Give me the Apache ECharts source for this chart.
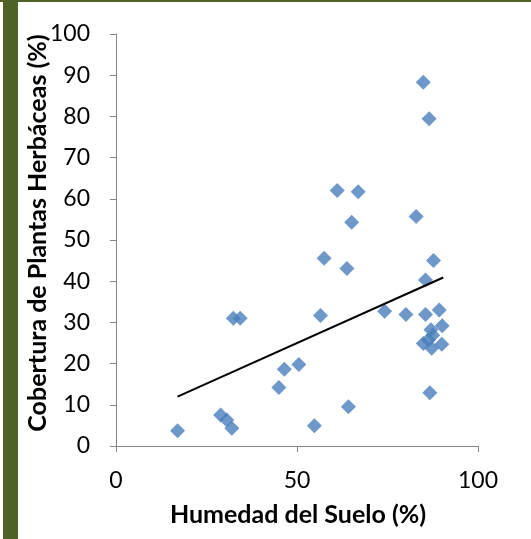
<!DOCTYPE html>
<html>
<head>
<meta charset="utf-8">
<script src="https://cdn.jsdelivr.net/npm/echarts@6/dist/echarts.min.js"></script>
<style>
html,body{margin:0;padding:0;background:#fff;}
#c{width:531px;height:539px;}
</style>
</head>
<body>
<div id="c"></div>
<script>
// Data
const humedad = [17.0, 28.9, 30.6, 32.0, 32.4, 34.3, 45.0, 46.5, 50.5, 54.8, 64.2, 56.5, 57.5, 63.8, 65.1, 61.1, 66.9, 74.2, 80.1, 82.9, 84.9, 86.5, 87.7, 85.5, 85.5, 89.3, 90.1, 87.0, 87.5, 84.9, 87.2, 90.0, 86.7, 86.3];
const cobertura = [3.7, 7.5, 6.3, 4.3, 31.0, 31.0, 14.2, 18.6, 19.8, 4.9, 9.5, 31.7, 45.6, 43.1, 54.3, 62.0, 61.7, 32.7, 31.9, 55.7, 88.3, 79.4, 45.0, 40.3, 31.9, 33.0, 29.2, 28.2, 26.9, 24.9, 23.7, 24.7, 12.9, 25.7];
const trendX = [17.0, 90.4];
const trendY = [12.0, 40.9];
const xTitle = 'Humedad del Suelo (%)';
const yTitle = 'Cobertura de Plantas Herbáceas (%)';

const chart = echarts.init(document.getElementById('c'), null, {renderer: 'canvas'});
const font = 'Lato, "Open Sans", sans-serif';
const axisCol = '#868686';
chart.setOption({
  animation: false,
  backgroundColor: '#ffffff',
  grid: {left: 116, right: 53, top: 34, bottom: 93},
  xAxis: {
    type: 'value', min: 0, max: 100, interval: 50,
    axisLine: {show: true, lineStyle: {color: axisCol, width: 1}},
    axisTick: {show: true, length: 6, lineStyle: {color: axisCol}},
    splitLine: {show: false},
    axisLabel: {color: '#000', fontFamily: font, fontSize: 23, margin: 23}
  },
  yAxis: {
    type: 'value', min: 0, max: 100, interval: 10,
    axisLine: {show: true, onZero: false, lineStyle: {color: axisCol, width: 1}},
    axisTick: {show: true, length: 6, lineStyle: {color: axisCol}},
    splitLine: {show: false},
    axisLabel: {color: '#000', fontFamily: font, fontSize: 23, margin: 26}
  },
  graphic: [
    {type: 'rect', left: 3, top: 0, shape: {width: 15, height: 539}, style: {fill: '#4f6228'}, z: 10},
    {type: 'rect', left: 0, top: 0, shape: {width: 531, height: 2}, style: {fill: '#4f6228'}, z: 10},
    {type: 'text', x: 298, y: 515, style: {text: xTitle, font: 'bold 25px ' + font, fill: '#000', align: 'center', verticalAlign: 'middle'}, z: 10},
    {type: 'text', x: 38, y: 233, rotation: Math.PI / 2, style: {text: yTitle, font: 'bold 25px ' + font, fill: '#000', align: 'center', verticalAlign: 'middle'}, z: 10}
  ],
  series: [
    {
      type: 'scatter',
      symbol: 'diamond',
      symbolSize: 15,
      itemStyle: {color: '#4a7ebb'},
      data: humedad.map((x, i) => [x, cobertura[i]]),
      z: 3
    },
    {
      type: 'line',
      symbol: 'none',
      lineStyle: {color: '#000', width: 2},
      data: trendX.map((x, i) => [x, trendY[i]]),
      z: 4
    }
  ]
});
</script>
</body>
</html>
